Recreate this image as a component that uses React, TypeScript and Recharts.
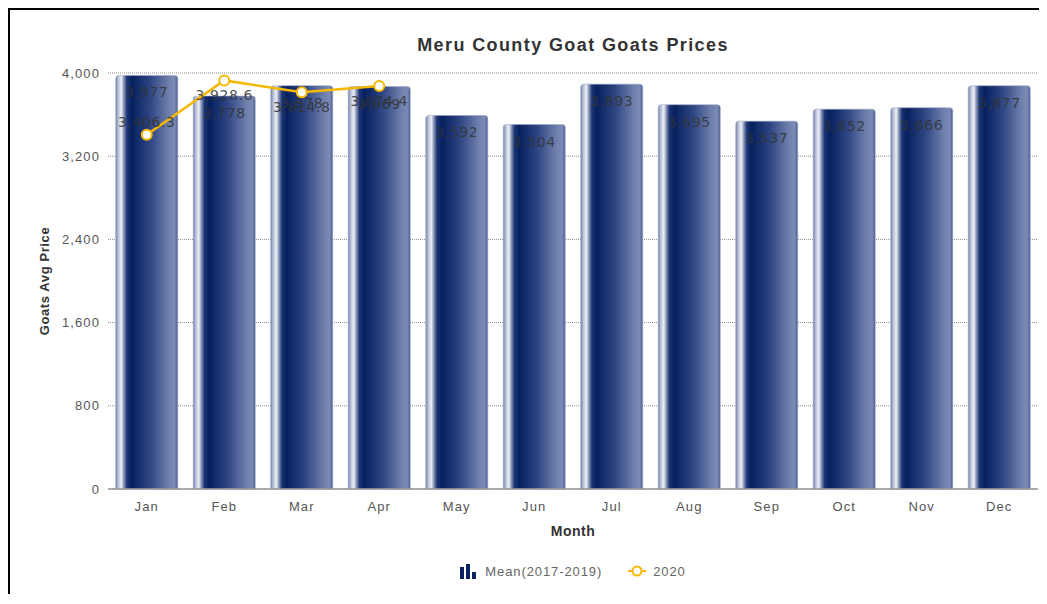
import React from "react";
import {
  ComposedChart,
  Bar,
  Line,
  XAxis,
  YAxis,
  CartesianGrid,
  LabelList,
} from "recharts";

const months = ["Jan", "Feb", "Mar", "Apr", "May", "Jun", "Jul", "Aug", "Sep", "Oct", "Nov", "Dec"];
const meanValues = [3977, 3778, 3878, 3869, 3592, 3504, 3893, 3695, 3537, 3652, 3666, 3877];
const values2020: (number | null)[] = [3406.3, 3928.6, 3814.8, 3874.4, null, null, null, null, null, null, null, null];
const yTicks = [0, 800, 1600, 2400, 3200, 4000];

const data = months.map((m, i) => ({ month: m, mean: meanValues[i], y2020: values2020[i] }));

const AXIS_FONT = "'Liberation Sans', Arial, Helvetica, sans-serif";
const LABEL_FONT = "'DejaVu Sans', sans-serif";
const LINE_COLOR = "#f5b800";

const fmt0 = (v: any) => Number(v).toLocaleString("en-US");
const fmt1 = (v: any) =>
  Number(v).toLocaleString("en-US", { minimumFractionDigits: 1, maximumFractionDigits: 1 });

const LineLabel = (props: any) => {
  const { x, y, value, index } = props;
  if (value == null) return null;
  const above = index === 0;
  return (
    <text
      x={x}
      y={above ? y - 13 : y + 15}
      textAnchor="middle"
      dominantBaseline="central"
      fontFamily={LABEL_FONT}
      fontSize={14}
      letterSpacing={0.6}
      fill="#333"
      fillOpacity={0.85}
    >
      {fmt1(value)}
    </text>
  );
};

const BarIcon = () => (
  <svg width={16} height={16} style={{ display: "block" }}>
    <rect x={0} y={4} width={4} height={12} fill="#0b2260" />
    <rect x={6} y={1} width={4} height={15} fill="#0b2260" />
    <rect x={12} y={9} width={4} height={7} fill="#0b2260" />
  </svg>
);

const LineIcon = () => (
  <svg width={18} height={16} style={{ display: "block" }}>
    <line x1={0} y1={8} x2={18} y2={8} stroke={LINE_COLOR} strokeWidth={2} />
    <circle cx={9} cy={8} r={4.5} fill="#fff" stroke={LINE_COLOR} strokeWidth={2} />
  </svg>
);

export default function App() {
  return (
    <div
      style={{
        position: "relative",
        width: 1031,
        height: 586,
        borderTop: "2px solid #000",
        borderLeft: "2px solid #000",
        boxSizing: "border-box",
        overflow: "hidden",
        background: "#fff",
      }}
    >
      <div
        style={{
          position: "absolute",
          left: 98,
          width: 930,
          top: 24,
          height: 22,
          lineHeight: "22px",
          textAlign: "center",
          fontFamily: AXIS_FONT,
          fontWeight: "bold",
          fontSize: 18,
          letterSpacing: 1.4,
          color: "#333",
        }}
      >
        Meru County Goat Goats Prices
      </div>
      <ComposedChart
        width={1029}
        height={584}
        data={data}
        margin={{ top: 63, right: 1, left: 20, bottom: 58 }}
        barCategoryGap="10%"
      >
        <defs>
          <linearGradient id="barGrad" x1="0" y1="0" x2="1" y2="0">
            <stop offset="0%" stopColor="#6f7fa8" />
            <stop offset="4%" stopColor="#b8c0d8" />
            <stop offset="9%" stopColor="#eef0f6" />
            <stop offset="13%" stopColor="#8a96b8" />
            <stop offset="18%" stopColor="#1c3574" />
            <stop offset="26%" stopColor="#06205e" />
            <stop offset="55%" stopColor="#2e4582" />
            <stop offset="86%" stopColor="#6f80ad" />
            <stop offset="95%" stopColor="#7b8bb5" />
            <stop offset="100%" stopColor="#4a5c8e" />
          </linearGradient>
        </defs>
        <CartesianGrid
          vertical={false}
          stroke="#8a8a8a"
          strokeDasharray="1 1"
        />
        <XAxis
          dataKey="month"
          height={47}
          tickLine={false}
          tickSize={8}
          tickMargin={5}
          axisLine={{ stroke: "#999", strokeWidth: 1.5 }}
          tick={{ fill: "#555", fontSize: 13, fontFamily: AXIS_FONT, letterSpacing: 1.1 }}
          label={{
            value: "Month",
            position: "insideBottom",
            offset: 0,
            style: {
              fill: "#333",
              fontSize: 14,
              fontWeight: "bold",
              fontFamily: AXIS_FONT,
              letterSpacing: 0.5,
            },
          }}
        />
        <YAxis
          width={78}
          domain={[0, 4000]}
          ticks={yTicks}
          interval={0}
          axisLine={false}
          tickLine={false}
          tickSize={6}
          tickMargin={2}
          tickFormatter={fmt0}
          tick={{ fill: "#555", fontSize: 13, fontFamily: AXIS_FONT, letterSpacing: 1.1 }}
          label={{
            value: "Goats Avg Price",
            angle: -90,
            position: "insideLeft",
            offset: 14,
            style: {
              textAnchor: "middle",
              fill: "#333",
              fontSize: 13,
              fontWeight: "bold",
              fontFamily: AXIS_FONT,
              letterSpacing: 0.6,
            },
          }}
        />
        <Bar
          dataKey="mean"
          name="Mean(2017-2019)"
          fill="url(#barGrad)"
          stroke="#9aa6c6"
          strokeWidth={0.6}
          radius={[3, 3, 0, 0]}
          isAnimationActive={false}
        >
          <LabelList
            dataKey="mean"
            position="insideTop"
            offset={12}
            formatter={fmt0}
            style={{
              fill: "#333",
              fillOpacity: 0.85,
              fontSize: 14,
              fontFamily: LABEL_FONT,
              letterSpacing: 0.6,
            }}
          />
        </Bar>
        <Line
          dataKey="y2020"
          name="2020"
          stroke={LINE_COLOR}
          strokeWidth={2.5}
          dot={{ r: 5, fill: "#fff", stroke: LINE_COLOR, strokeWidth: 2 }}
          connectNulls={false}
          isAnimationActive={false}
        >
          <LabelList dataKey="y2020" content={LineLabel} />
        </Line>
      </ComposedChart>
      <div
        style={{
          position: "absolute",
          left: 98,
          width: 930,
          top: 552,
          height: 18,
          display: "flex",
          alignItems: "center",
          justifyContent: "center",
          fontFamily: AXIS_FONT,
          fontSize: 13,
          letterSpacing: 0.9,
          color: "#666",
        }}
      >
        <BarIcon />
        <span style={{ marginLeft: 9 }}>Mean(2017-2019)</span>
        <span style={{ marginLeft: 26, display: "flex" }}>
          <LineIcon />
        </span>
        <span style={{ marginLeft: 7 }}>2020</span>
      </div>
    </div>
  );
}
